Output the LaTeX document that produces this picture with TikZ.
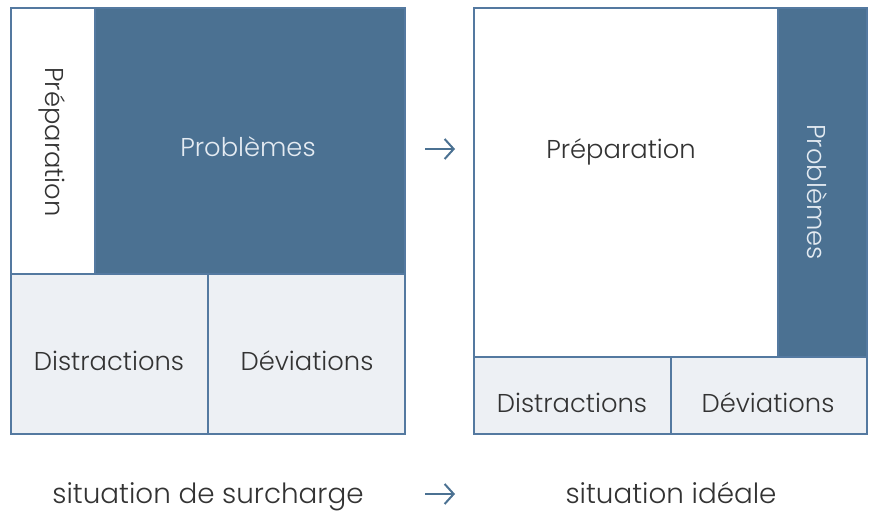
\documentclass[tikz,border=0pt]{standalone}
\usepackage{fontspec}
\usetikzlibrary{arrows.meta}
\setmainfont{Poppins}[UprightFont=* Light]
\definecolor{dk}{HTML}{4B7192}
\definecolor{bd}{HTML}{5479A0}
\definecolor{lt}{HTML}{EDF0F4}
\definecolor{tx}{HTML}{333333}
\definecolor{wt}{HTML}{E4EBF2}
\tikzset{
  box/.style={draw=bd, line width=1.6pt},
  lbl/.style={font=\fontsize{25.8}{28}\selectfont, text=tx, inner sep=1pt},
  wlbl/.style={font=\fontsize{25.8}{28}\selectfont, text=wt, inner sep=1pt},
  caplbl/.style={font=\fontsize{27.8}{30}\selectfont, text=tx, inner sep=0pt, anchor=base},
  arr/.style={draw=dk, line width=2pt, -{Straight Barb[length=9pt,width=20pt,line width=2pt]}},
}
\begin{document}
\begin{tikzpicture}[x=1pt,y=-1pt]
\useasboundingbox (0,0) rectangle (873,511);
% left panel
\path[fill=dk] (95,8) rectangle (405,274);
\path[fill=white] (11,8) rectangle (95,274);
\path[fill=lt] (11,274) rectangle (405,434);
\draw[box] (11,8) -- (95,8) -- (95,274);
\draw[box] (11,8) rectangle (405,434);
\draw[box] (11,274) -- (405,274);
\draw[box] (208,274) -- (208,434);
\node[lbl, rotate=-90] (lprep) at (52,142) {Préparation};
\node[wlbl] (lprob) at (248,147) {Problèmes};
\node[lbl] (ldis) at (109,361) {Distractions};
\node[lbl] (ldev) at (307,361) {Déviations};
% right panel
\path[fill=white] (474,8) rectangle (778,357);
\path[fill=dk] (778,8) rectangle (867,357);
\path[fill=lt] (474,357) rectangle (867,434);
\draw[box] (474,8) rectangle (867,434);
\draw[box] (474,357) -- (867,357);
\draw[box] (778,8) -- (778,357);
\draw[box] (671,357) -- (671,434);
\node[lbl] (rprep) at (621,152) {Préparation};
\node[wlbl, rotate=-90] (rprob) at (817,192) {Problèmes};
\node[lbl] (rdis) at (572,403) {Distractions};
\node[lbl] (rdev) at (768,403) {Déviations};
% arrows and captions
\coordinate (a1s) at (425,149);
\coordinate (a1e) at (455,149);
\draw[arr] (a1s) -- (a1e);
\node[caplbl] (c1) at (208,503.5) {situation de surcharge};
\coordinate (a2s) at (425,494);
\coordinate (a2e) at (455,494);
\draw[arr] (a2s) -- (a2e);
\node[caplbl] (c2) at (671,503.5) {situation idéale};
\end{tikzpicture}
\end{document}
